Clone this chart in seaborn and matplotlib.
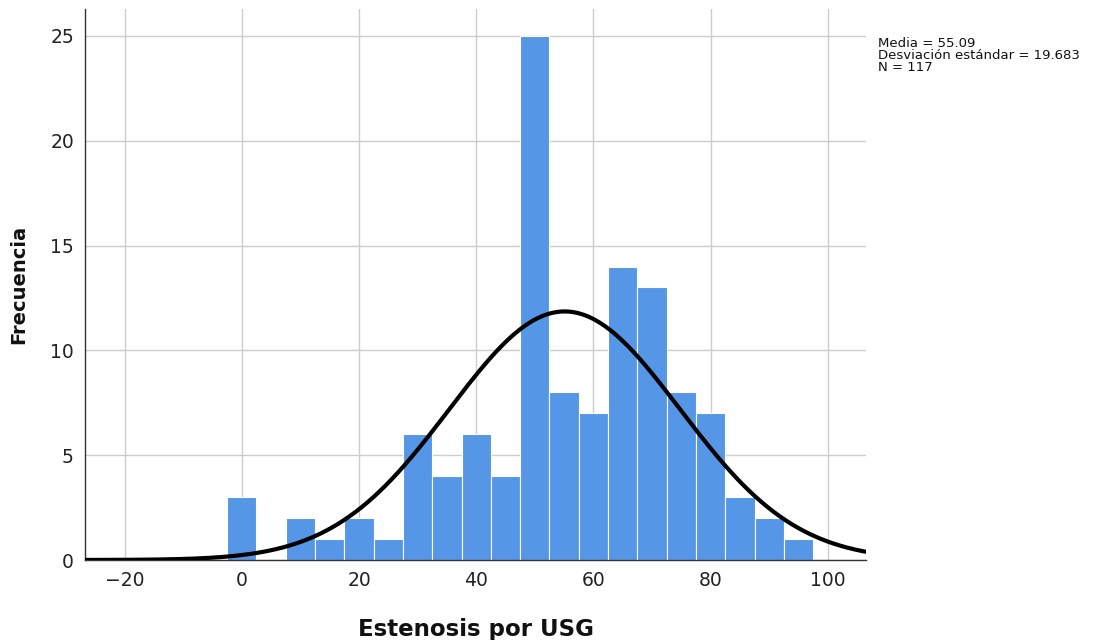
import numpy as np
import pandas as pd
import matplotlib
matplotlib.use("Agg")
import matplotlib.pyplot as plt
import seaborn as sns

# Data
bin_centers = [0, 5, 10, 15, 20, 25, 30, 35, 40, 45, 50, 55, 60, 65, 70, 75, 80, 85, 90, 95]
counts      = [3, 0, 2, 1, 2, 1, 6, 4, 6, 4, 25, 8, 7, 14, 13, 8, 7, 3, 2, 1]
mean_val = 55.09
sd_val = 19.683
n_val = 117
bin_width = 5
x_ticks = [-20, 0, 20, 40, 60, 80, 100]
y_ticks = [0, 5, 10, 15, 20, 25]

sns.set_theme(style="white")
plt.rcParams['font.family'] = ['DejaVu Sans']

fig = plt.figure(figsize=(11.04, 6.4), dpi=100)
ax = fig.add_axes([0.077, 0.125, 0.7074, 0.8605])

df = pd.DataFrame({"x": bin_centers, "w": counts})
sns.histplot(data=df, x="x", weights="w", binwidth=bin_width,
             binrange=(bin_centers[0] - bin_width / 2, bin_centers[-1] + bin_width / 2),
             color="#5596E6", alpha=1, edgecolor="white", linewidth=0.8, ax=ax, zorder=2)

xs = np.linspace(-28, 109, 400)
ys = n_val * bin_width * np.exp(-0.5 * ((xs - mean_val) / sd_val) ** 2) / (sd_val * np.sqrt(2 * np.pi))
sns.lineplot(x=xs, y=ys, color="black", linewidth=3, ax=ax, zorder=3)

ax.set_xlim(-26.75, 106.5)
ax.set_ylim(0, 26.27)
ax.set_xticks(x_ticks)
ax.set_yticks(y_ticks)
ax.set_xticklabels([str(t) if t >= 0 else "\u2212" + str(-t) for t in x_ticks])
ax.grid(True, color="#cccccc", linewidth=1.0, zorder=0)
ax.set_axisbelow(True)
for s in ["top", "right"]:
    ax.spines[s].set_visible(False)
ax.spines["left"].set_color("#333333")
ax.spines["bottom"].set_color("#333333")
ax.spines["left"].set_linewidth(1)
ax.spines["bottom"].set_linewidth(1)
ax.tick_params(axis="both", length=0, labelsize=13.5, colors="#222222", pad=8)
ax.set_xlabel("Estenosis por USG", fontsize=16.5, fontweight="bold", labelpad=20, color="#111111")
ax.set_ylabel("Frecuencia", fontsize=14, fontweight="bold", labelpad=16, color="#111111")

fig.text(878 / 1104, 1 - 37 / 640,
         f"Media = {mean_val:.2f}\nDesviación estándar = {sd_val:.3f}\nN = {n_val}",
         fontsize=9.5, va="top", ha="left", linespacing=0.9, color="#111111")

fig.savefig("out.png", dpi=100)
